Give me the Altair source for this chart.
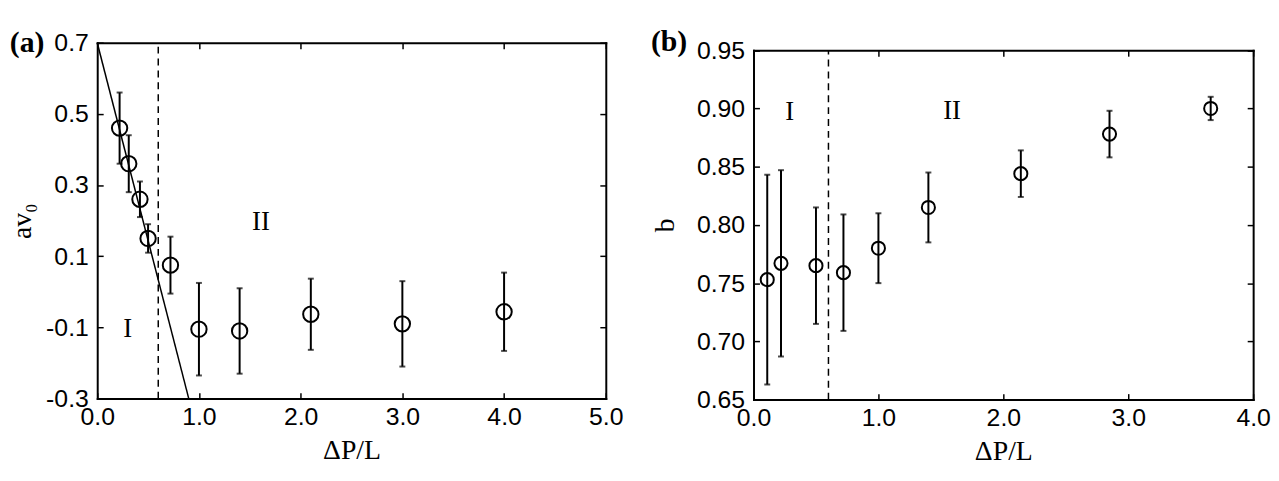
import altair as alt
import pandas as pd

# ---------------- data ----------------
# panel (a)
a_x = [0.22, 0.31, 0.42, 0.50, 0.72, 1.00, 1.40, 2.10, 3.00, 4.00]
a_y = [0.46, 0.36, 0.26, 0.15, 0.075, -0.105, -0.11, -0.063, -0.09, -0.056]
a_err = [0.10, 0.08, 0.05, 0.04, 0.08, 0.13, 0.12, 0.10, 0.12, 0.11]
a_line_x = [0.0, 0.9]
a_line_y = [0.7, -0.3]
a_dash = [0.6]
a_region_text = ["I", "II"]
a_region_x = [0.30, 1.61]
a_region_y = [-0.105, 0.195]
a_xticks = [0, 1, 2, 3, 4, 5]
a_yticks = [-0.3, -0.1, 0.1, 0.3, 0.5, 0.7]

# panel (b)
b_x = [0.11, 0.22, 0.50, 0.72, 1.00, 1.40, 2.14, 2.85, 3.66]
b_y = [0.753, 0.767, 0.765, 0.759, 0.780, 0.815, 0.844, 0.878, 0.900]
b_err = [0.090, 0.080, 0.050, 0.050, 0.030, 0.030, 0.020, 0.020, 0.010]
b_dash = [0.6]
b_region_text = ["I", "II"]
b_region_x = [0.29, 1.59]
b_region_y = [0.897, 0.898]
b_xticks = [0, 1, 2, 3, 4]
b_yticks = [0.65, 0.70, 0.75, 0.80, 0.85, 0.90, 0.95]

SANS = "Liberation Sans"
SERIF = "Liberation Serif"
TICK = 6


def lab_expr(fmt):
    return f"replace(format(datum.value, '{fmt}'), '\u2212', '-')"


def tick_axis(orient, values, fmt, title=None, labels=True, label_pad=5, title_pad=8, shift=0):
    kw = dict(
        orient=orient, values=values, domain=False, grid=False,
        tickSize=TICK, offset=-TICK - shift, tickWidth=1.5, tickColor="black",
        labels=labels, labelFlush=False, labelFont=SANS, labelFontSize=25, labelColor="black",
        labelPadding=label_pad, labelExpr=lab_expr(fmt),
    )
    if title is not None:
        kw.update(title=title, titleFont=SERIF, titleFontSize=28, titleFontWeight="normal",
                  titleColor="black", titlePadding=title_pad)
    else:
        kw.update(title=None)
    return alt.Axis(**kw)


def domain_axis(orient, shift=0):
    return alt.Axis(orient=orient, domain=True, domainColor="black", domainWidth=2,
                    domainCap="square", ticks=False, labels=False, grid=False,
                    title=None, offset=-shift)


def panel(xs, ys, errs, xdom, ydom, xticks, yticks, xfmt, yfmt, ytitle, ytitle_pad, size,
          dash, rx, ry, rtext, label, lx, ly, w, h, top_shift=0, line=None):
    df = pd.DataFrame({"x": xs, "y": ys, "e": errs})
    df["lo"] = df["y"] - df["e"]
    df["hi"] = df["y"] + df["e"]
    xsc = alt.Scale(domain=xdom, nice=False, zero=False)
    if top_shift:
        ysc = alt.Scale(domain=ydom, nice=False, zero=False, range=[h, top_shift])
    else:
        ysc = alt.Scale(domain=ydom, nice=False, zero=False)

    pts = alt.Chart(df).mark_point(
        shape="circle", size=size, filled=False, stroke="black", strokeWidth=2, opacity=1
    ).encode(
        x=alt.X("x:Q", scale=xsc, axis=tick_axis("bottom", xticks, xfmt, "ΔP/L", label_pad=6, title_pad=7)),
        y=alt.Y("y:Q", scale=ysc, axis=tick_axis("left", yticks, yfmt, ytitle, label_pad=9, title_pad=ytitle_pad)),
    )
    bars = alt.Chart(df).mark_rule(strokeWidth=2, color="black").encode(
        x=alt.X("x:Q", scale=xsc, axis=domain_axis("top", top_shift)),
        y=alt.Y("lo:Q", scale=ysc, axis=domain_axis("right")),
        y2="hi:Q",
    )
    cap_lo = alt.Chart(df).mark_tick(orient="horizontal", size=6, thickness=2, color="black").encode(
        x=alt.X("x:Q", scale=xsc, axis=tick_axis("top", xticks, xfmt, None, labels=False, shift=top_shift)),
        y=alt.Y("lo:Q", scale=ysc, axis=tick_axis("right", yticks, yfmt, None, labels=False)),
    )
    cap_hi = alt.Chart(df).mark_tick(orient="horizontal", size=6, thickness=2, color="black").encode(
        x=alt.X("x:Q", scale=xsc, axis=domain_axis("bottom")),
        y=alt.Y("hi:Q", scale=ysc, axis=domain_axis("left")),
    )
    dsh = alt.Chart(pd.DataFrame({"x": dash, "y0": [ydom[0]], "y1": [ydom[1]]})).mark_rule(
        strokeDash=[7, 5], strokeWidth=1.5, color="black"
    ).encode(
        x=alt.X("x:Q", scale=xsc, axis=None),
        y=alt.Y("y0:Q", scale=ysc, axis=None),
        y2="y1:Q",
    )
    reg = alt.Chart(pd.DataFrame({"x": rx, "y": ry, "t": rtext})).mark_text(
        font=SERIF, fontSize=27, color="black", baseline="middle", align="center"
    ).encode(
        x=alt.X("x:Q", scale=xsc, axis=None),
        y=alt.Y("y:Q", scale=ysc, axis=None),
        text="t:N",
    )
    lab = alt.Chart(pd.DataFrame({"x": [lx], "y": [ly], "t": [label]})).mark_text(
        font=SERIF, fontSize=30, fontWeight="bold", color="black", baseline="middle", align="center"
    ).encode(
        x=alt.X("x:Q", scale=xsc, axis=None),
        y=alt.Y("y:Q", scale=ysc, axis=None),
        text="t:N",
    )
    layers = [dsh]
    if line is not None:
        ln = alt.Chart(pd.DataFrame({"x": line[0], "y": line[1]})).mark_line(
            strokeWidth=1.5, color="black"
        ).encode(
            x=alt.X("x:Q", scale=xsc, axis=None),
            y=alt.Y("y:Q", scale=ysc, axis=None),
        )
        layers.append(ln)
    layers += [bars, cap_lo, cap_hi, pts, reg, lab]
    return alt.layer(*layers).resolve_axis(x="independent", y="independent").properties(width=w, height=h)


left = panel(a_x, a_y, a_err, [0, 5], [-0.3, 0.7], a_xticks, a_yticks, ".1f", ".1f", "av₀", 9, 240,
             a_dash, a_region_x, a_region_y, a_region_text, "(a)", -0.689, 0.70, 513, 359,
             line=(a_line_x, a_line_y))
right = panel(b_x, b_y, b_err, [0, 4], [0.65, 0.95], b_xticks, b_yticks, ".1f", ".2f", "b", 17, 175,
              b_dash, b_region_x, b_region_y, b_region_text, "(b)", -0.676, 0.957, 504, 360,
              top_shift=7.6)

chart = alt.hconcat(left, right, spacing=27).properties(
    padding={"left": 0, "top": 17, "right": 0, "bottom": 0},
    background="white",
).configure_view(strokeWidth=0)

chart.save("out.html", embed_options={"renderer": "svg", "actions": False})
